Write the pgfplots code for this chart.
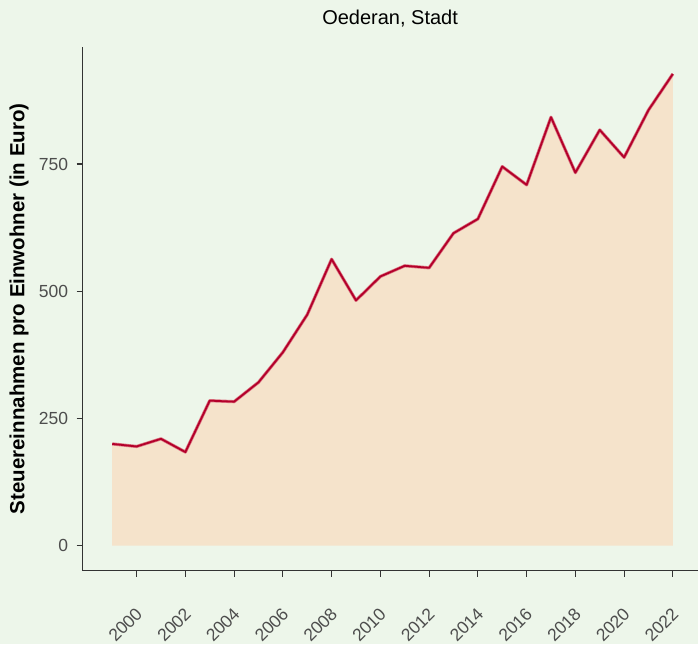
\documentclass[border=0pt]{standalone}
\usepackage{pgfplots}
\pgfplotsset{compat=1.18}
\usepackage{pgfplotstable}
\usepackage{fontspec}
\setmainfont{Liberation Sans}

\definecolor{bgc}{HTML}{EDF6EA}
\definecolor{areac}{HTML}{F5E3CB}
\definecolor{linec}{HTML}{B3002A}
\definecolor{glowc}{HTML}{DC7482}
\definecolor{tickc}{HTML}{4D4D4D}
\definecolor{axc}{HTML}{333333}

% Steuereinnahmen pro Einwohner, Oederan
\pgfplotstableread{
year value
1999 200
2000 195
2001 210
2002 184
2003 285
2004 283
2005 321
2006 380
2007 454
2008 563
2009 482
2010 529
2011 550
2012 546
2013 614
2014 642
2015 745
2016 709
2017 842
2018 733
2019 817
2020 763
2021 856
2022 927
}\steuer

\begin{document}
\begin{tikzpicture}[x=1pt,y=1pt]
\fill[bgc] (0,0) rectangle (698,644);
\begin{axis}[
    at={(82.7pt,73pt)}, anchor=south west,
    scale only axis, width=615.3pt, height=524pt,
    xmin=1997.786, xmax=2023.013,
    ymin=-49, ymax=980,
    axis x line*=bottom, axis y line*=left,
    axis line style={-, axc, line width=0.9pt},
    tick align=outside, major tick length=6pt,
    tick style={axc, line width=1.1pt},
    xtick={2000,2002,...,2022},
    ytick={0,250,500,750},
    /pgf/number format/1000 sep={},
    /pgf/number format/assume math mode=true,
    ticklabel style={font=\fontsize{17.5}{20}\selectfont, text=tickc},
    xticklabel style={xshift=5pt, yshift=-32pt, rotate=45, anchor=east},
    yticklabel style={xshift=-5pt},
    title={Oederan, Stadt},
    title style={at={(axis description cs:0.5,1)}, anchor=center, yshift=22pt,
                 font=\fontsize{20}{24}\selectfont},
    ylabel={Steuereinnahmen pro Einwohner (in Euro)},
    ylabel style={at={(axis description cs:-0.1035,0.5)}, anchor=center,
                  font=\fontsize{20.5}{24}\selectfont\bfseries},
    clip=false,
]
\addplot[fill=areac, draw=none] table[x=year, y=value] {\steuer} \closedcycle;
\addplot[glowc, line width=3.2pt, line join=round] table[x=year, y=value] {\steuer};
\addplot[linec, line width=1.8pt, line join=round] table[x=year, y=value] {\steuer};
\end{axis}
\end{tikzpicture}
\end{document}
